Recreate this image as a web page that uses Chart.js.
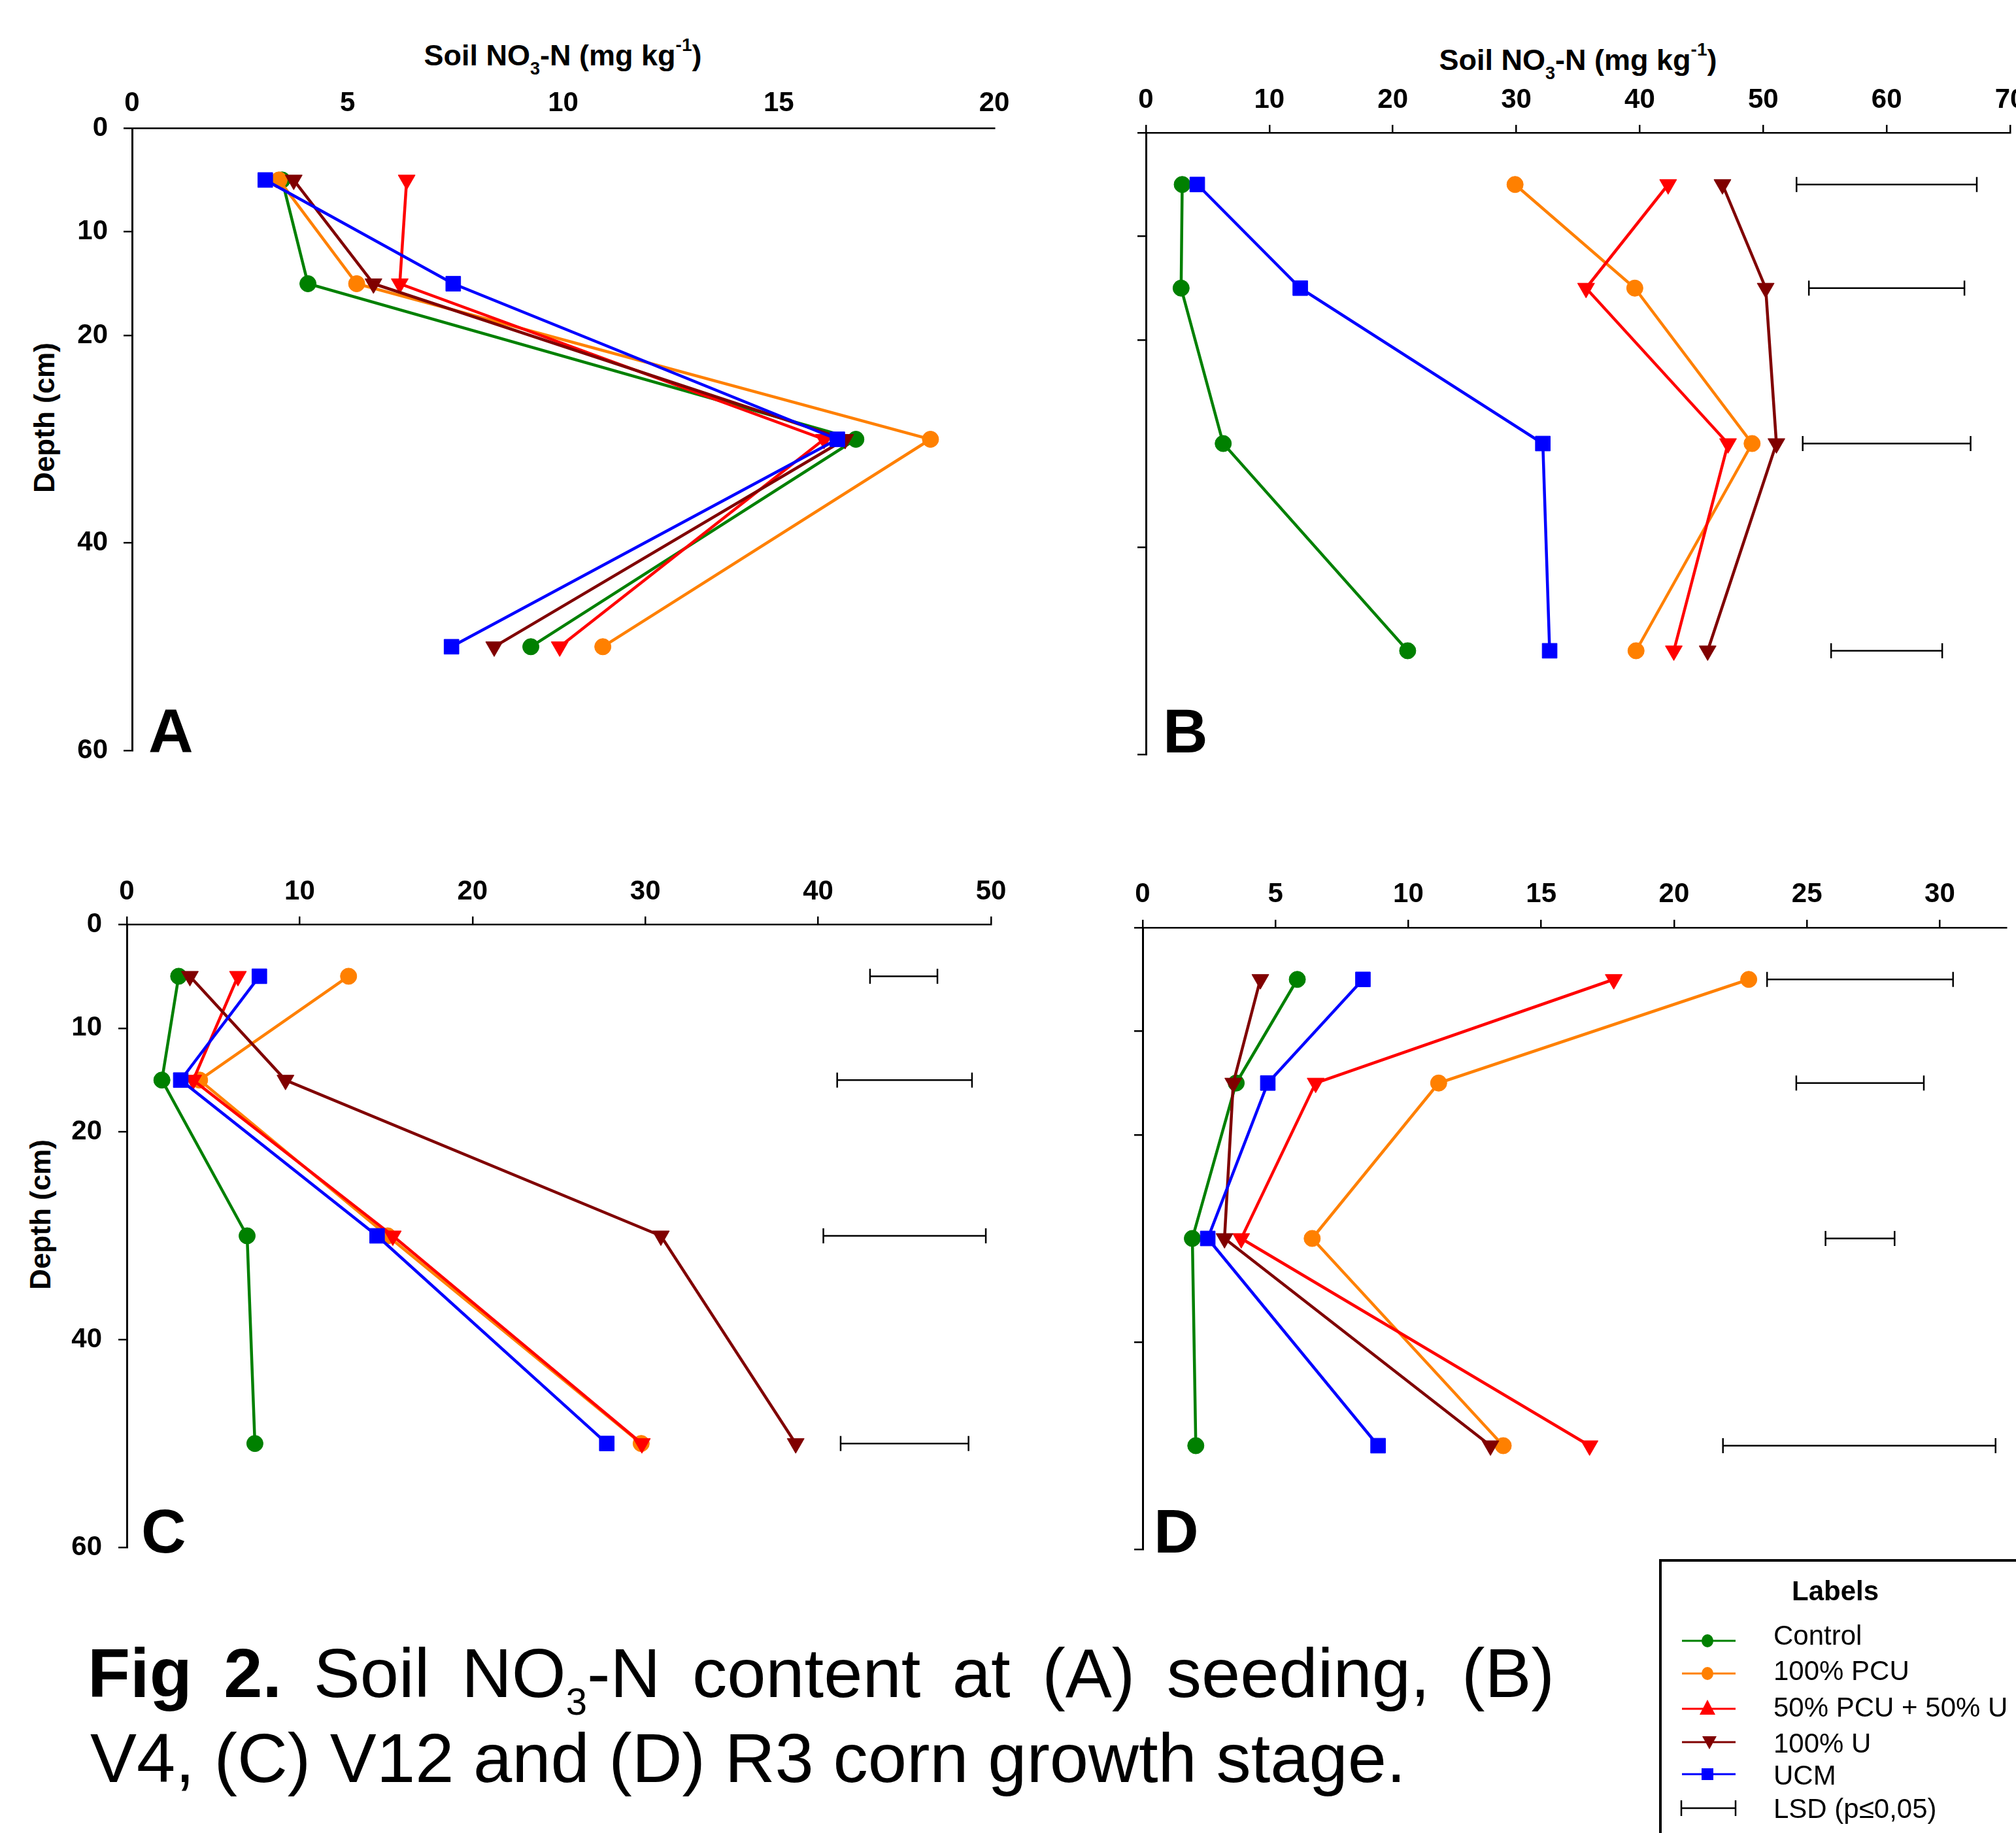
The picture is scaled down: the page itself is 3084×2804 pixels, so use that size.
<!DOCTYPE html>
<html>
<head>
<meta charset="utf-8">
<title>Soil NO3-N content</title>
<script src="https://cdn.jsdelivr.net/npm/chart.js@4.4.1/dist/chart.umd.min.js"></script>
<style>
  html, body { margin: 0; padding: 0; background: #fff; }
  body { width: 3084px; height: 2804px; position: relative; overflow: hidden;
         font-family: "Liberation Sans", Arial, sans-serif; color: #000; }
  canvas { position: absolute; }
  .txt { position: absolute; white-space: nowrap; line-height: 1; }
  sub, sup { line-height: 0; }
  .title { font-weight: bold; font-size: 45px; transform: translateX(-50%); }
  .ytitle { font-weight: bold; font-size: 44px; transform: translate(-50%, -50%) rotate(-90deg); }
  .letter { font-weight: bold; font-size: 95px; }
  .leg { font-size: 42px; }
</style>
</head>
<body>

<div class="txt title" style="left:861px; top:62px;">Soil NO<sub style="font-size:27px; vertical-align:-14px;">3</sub>-N (mg kg<sup style="font-size:28px; vertical-align:22px;">-1</sup>)</div>
<div class="txt title" style="left:2414px; top:69px;">Soil NO<sub style="font-size:27px; vertical-align:-14px;">3</sub>-N (mg kg<sup style="font-size:28px; vertical-align:22px;">-1</sup>)</div>
<div class="txt ytitle" style="left:68px; top:639px;">Depth (cm)</div>
<div class="txt ytitle" style="left:62px; top:1858px;">Depth (cm)</div>

<canvas id="chartA"></canvas>
<canvas id="chartB"></canvas>
<canvas id="chartC"></canvas>
<canvas id="chartD"></canvas>

<div class="txt letter" style="left:227px; top:1071px;">A</div>
<div class="txt letter" style="left:1779px; top:1071px;">B</div>
<div class="txt letter" style="left:216px; top:2295px;">C</div>
<div class="txt letter" style="left:1765px; top:2295px;">D</div>

<div class="txt" style="left:134px; top:2507px; width:2244px; font-size:106.5px; white-space:normal; text-align:justify; text-align-last:justify;"><b>Fig 2.</b> Soil NO<sub style="font-size:58px; vertical-align:-27px;">3</sub>-N content at (A) seeding, (B)</div>
<div class="txt" style="left:138px; top:2637px; font-size:106.5px;">V4, (C) V12 and (D) R3 corn growth stage.</div>

<div style="position:absolute; left:2538px; top:2385px; width:700px; height:600px; border:4.5px solid #000; box-sizing:border-box;"></div>
<div class="txt leg" style="left:2741px; top:2413px; font-weight:bold;">Labels</div>
<div id="legendText"></div>
<canvas id="legendMarks" style="left:2550px; top:2480px;" width="140" height="320"></canvas>

<script>
// depth of each sampling layer (cm) and axis ticks
var depths = [5, 15, 30, 50];
var depthTicks = [0, 10, 20, 40, 60];

var seriesNames = ['Control', '100% PCU', '50% PCU + 50% U', '100% U', 'UCM'];
var seriesColors = ['#008000', '#FF8000', '#FF0000', '#800000', '#0000FF'];
var markerStyles = ['circle', 'circle', 'triangle', 'triangle', 'rect'];
var markerRotations = [0, 0, 180, 180, 0];
var markerRadii = [12.5, 12.5, 15, 15, 16];

// (A) seeding
var aTicks = [0, 5, 10, 15, 20];
var aControl = [3.48, 4.08, 16.79, 9.25];
var aPCU = [3.41, 5.21, 18.52, 10.92];
var aHalf = [6.37, 6.21, 16.05, 9.92];
var aUrea = [3.75, 5.60, 16.54, 8.40];
var aUCM = [3.09, 7.45, 16.36, 7.41];

// (B) V4
var bTicks = [0, 10, 20, 30, 40, 50, 60, 70];
var bControl = [2.94, 2.85, 6.26, 21.2];
var bPCU = [29.9, 39.6, 49.1, 39.7];
var bHalf = [42.3, 35.65, 47.15, 42.76];
var bUrea = [46.7, 50.2, 51.07, 45.5];
var bUCM = [4.16, 12.5, 32.15, 32.7];
var bLsdLo = [52.7, 53.7, 53.2, 55.5];
var bLsdHi = [67.3, 66.3, 66.8, 64.5];

// (C) V12
var cTicks = [0, 10, 20, 30, 40, 50];
var cControl = [3.0, 2.03, 6.96, 7.41];
var cPCU = [12.83, 4.21, 15.09, 29.76];
var cHalf = [6.43, 3.84, 15.39, 29.8];
var cUrea = [3.65, 9.18, 30.9, 38.7];
var cUCM = [7.67, 3.12, 14.48, 27.77];
var cLsdLo = [43.0, 41.1, 40.3, 41.3];
var cLsdHi = [46.9, 48.9, 49.7, 48.7];

// (D) R3
var dTicks = [0, 5, 10, 15, 20, 25, 30];
var dControl = [5.82, 3.52, 1.87, 2.0];
var dPCU = [22.81, 11.14, 6.38, 13.57];
var dHalf = [17.73, 6.51, 3.71, 16.82];
var dUrea = [4.43, 3.41, 3.08, 13.09];
var dUCM = [8.29, 4.71, 2.45, 8.86];
var dLsdLo = [23.5, 24.6, 25.7, 21.84];
var dLsdHi = [30.5, 29.4, 28.3, 32.1];

var tickFont = { family: '"Liberation Sans", Arial, sans-serif', size: 42, weight: 'bold' };
var Y_W = 200, X_H = 196, PAD_R = 80, PAD_B = 90;

function buildPanel(id, geo, xTicks, xMax, values, lsdLo, lsdHi) {
  var canvas = document.getElementById(id);
  var w = geo.R - geo.L + Y_W + PAD_R;
  var h = geo.B - geo.T + X_H + PAD_B;
  canvas.width = w;
  canvas.height = h;
  canvas.style.left = (geo.L - Y_W) + 'px';
  canvas.style.top = (geo.T - X_H) + 'px';
  canvas.style.width = w + 'px';
  canvas.style.height = h + 'px';

  var datasets = values.map(function (vals, i) {
    return {
      label: seriesNames[i],
      data: vals.map(function (v, k) { return { x: v, y: depths[k] }; }),
      showLine: true,
      borderColor: seriesColors[i],
      backgroundColor: seriesColors[i],
      borderWidth: 4.5,
      pointStyle: markerStyles[i],
      pointRotation: markerRotations[i],
      pointRadius: markerRadii[i],
      pointBorderWidth: 1,
      pointBorderColor: seriesColors[i],
      pointBackgroundColor: seriesColors[i],
      order: 10 - i
    };
  });

  if (lsdLo) {
    lsdLo.forEach(function (lo, k) {
      datasets.push({
        label: 'LSD (p\u22640,05)',
        data: [{ x: lo, y: depths[k] }, { x: lsdHi[k], y: depths[k] }],
        showLine: true,
        borderColor: '#000',
        borderWidth: 2.5,
        pointStyle: 'line',
        pointRotation: 90,
        pointRadius: 11.5,
        pointBorderWidth: 2.5,
        pointBorderColor: '#000',
        order: 20
      });
    });
  }

  return new Chart(canvas, {
    type: 'scatter',
    data: { datasets: datasets },
    options: {
      responsive: false,
      animation: false,
      events: [],
      layout: { padding: { left: 0, top: 0, right: PAD_R, bottom: PAD_B } },
      plugins: { legend: { display: false }, tooltip: { enabled: false } },
      scales: {
        x: {
          type: 'linear', position: 'top', min: 0, max: xMax,
          afterBuildTicks: function (s) { s.ticks = xTicks.map(function (v) { return { value: v }; }); },
          afterFit: function (s) { s.height = X_H; },
          ticks: { font: tickFont, color: '#000', padding: geo.xPad, maxRotation: 0, autoSkip: false },
          grid: { drawOnChartArea: false, drawTicks: geo.xMarks, tickLength: 12, color: '#000', lineWidth: 2.5 },
          border: { display: true, color: '#000', width: 2.5 }
        },
        y: {
          type: 'linear', position: 'left', reverse: true, min: 0, max: 60,
          afterBuildTicks: function (s) { s.ticks = depthTicks.map(function (v) { return { value: v }; }); },
          afterFit: function (s) { s.width = Y_W; },
          ticks: { display: geo.yLabels, font: tickFont, color: '#000', padding: geo.yPad, autoSkip: false },
          grid: { drawOnChartArea: false, drawTicks: true, tickLength: 13, color: '#000', lineWidth: 2.5 },
          border: { display: true, color: '#000', width: 3 }
        }
      }
    }
  });
}

buildPanel('chartA', { L: 202, T: 196, R: 1521, B: 1148, xPad: 12, yPad: 24, xMarks: false, yLabels: true },
  aTicks, 20, [aControl, aPCU, aHalf, aUrea, aUCM], null, null);
buildPanel('chartB', { L: 1753, T: 203, R: 3075, B: 1154, xPad: 12, yPad: 24, xMarks: true, yLabels: false },
  bTicks, 70, [bControl, bPCU, bHalf, bUrea, bUCM], bLsdLo, bLsdHi);
buildPanel('chartC', { L: 194, T: 1414, R: 1516, B: 2367, xPad: 12.5, yPad: 25, xMarks: true, yLabels: true },
  cTicks, 50, [cControl, cPCU, cHalf, cUrea, cUCM], cLsdLo, cLsdHi);
buildPanel('chartD', { L: 1748, T: 1419, R: 3069, B: 2370, xPad: 13, yPad: 25, xMarks: true, yLabels: false },
  dTicks, 32.5, [dControl, dPCU, dHalf, dUrea, dUCM], dLsdLo, dLsdHi);

// legend: text rows and their symbols
var legendNames = seriesNames.concat(['LSD (p\u22640,05)']);
var legendBaselines = [2517, 2571, 2627, 2682, 2731, 2782];
var legendLineY = [2510, 2560, 2614, 2665, 2714, 2766];
var holder = document.getElementById('legendText');
legendNames.forEach(function (name, i) {
  var d = document.createElement('div');
  d.className = 'txt leg';
  d.style.left = '2713px';
  d.style.top = (legendBaselines[i] - 35.6) + 'px';
  d.textContent = name;
  holder.appendChild(d);
});

(function drawLegendMarks() {
  var cv = document.getElementById('legendMarks');
  var ctx = cv.getContext('2d');
  var ox = 2550, oy = 2480;
  ctx.translate(-ox, -oy);
  ctx.lineWidth = 3;
  for (var i = 0; i < 5; i++) {
    var y = legendLineY[i], c = seriesColors[i];
    ctx.strokeStyle = c; ctx.fillStyle = c;
    ctx.beginPath(); ctx.moveTo(2573, y); ctx.lineTo(2655, y); ctx.stroke();
    ctx.beginPath();
    if (i < 2) {
      ctx.ellipse(2612, y, 9, 10, 0, 0, Math.PI * 2);
    } else if (i === 2) {
      ctx.moveTo(2612, y - 14); ctx.lineTo(2600, y + 9); ctx.lineTo(2624, y + 9); ctx.closePath();
    } else if (i === 3) {
      ctx.moveTo(2604, y - 9); ctx.lineTo(2626, y - 9); ctx.lineTo(2615, y + 11); ctx.closePath();
    } else {
      ctx.rect(2603, y - 9, 18, 18);
    }
    ctx.fill();
  }
  var ly = legendLineY[5];
  ctx.strokeStyle = '#000'; ctx.lineWidth = 2.5;
  ctx.beginPath();
  ctx.moveTo(2572, ly); ctx.lineTo(2655, ly);
  ctx.moveTo(2572, ly - 12); ctx.lineTo(2572, ly + 12);
  ctx.moveTo(2655, ly - 12); ctx.lineTo(2655, ly + 12);
  ctx.stroke();
})();
</script>
</body>
</html>
